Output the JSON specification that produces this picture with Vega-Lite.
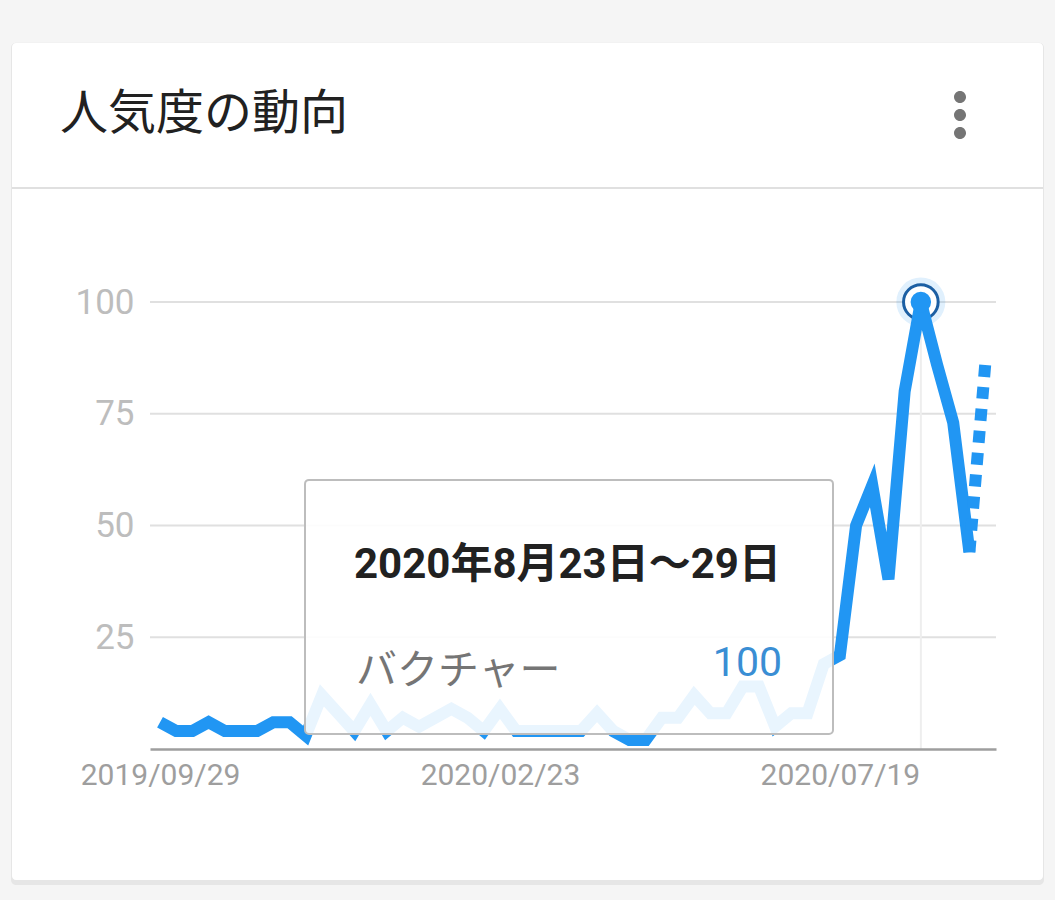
{
  "$schema": "https://vega.github.io/schema/vega-lite/v6.json",
  "width": 846,
  "height": 447,
  "autosize": {"type": "none"},
  "padding": {"left": 150, "top": 302, "right": 59, "bottom": 151},
  "background": "#f5f5f5",
  "view": {"stroke": null},
  "title": {
    "text": "人気度の動向",
    "anchor": "start",
    "frame": "group",
    "font": "Noto Sans CJK JP",
    "fontSize": 48,
    "fontWeight": "normal",
    "color": "#212121",
    "baseline": "alphabetic",
    "dx": -90,
    "offset": -134
  },
  "datasets": {
    "trend": [
      {"date": "2019-09-29T00:00:00", "value": 6},
      {"date": "2019-10-06T00:00:00", "value": 4},
      {"date": "2019-10-13T00:00:00", "value": 4},
      {"date": "2019-10-20T00:00:00", "value": 6},
      {"date": "2019-10-27T00:00:00", "value": 4},
      {"date": "2019-11-03T00:00:00", "value": 4},
      {"date": "2019-11-10T00:00:00", "value": 4},
      {"date": "2019-11-17T00:00:00", "value": 6},
      {"date": "2019-11-24T00:00:00", "value": 6},
      {"date": "2019-12-01T00:00:00", "value": 3},
      {"date": "2019-12-08T00:00:00", "value": 12},
      {"date": "2019-12-15T00:00:00", "value": 8},
      {"date": "2019-12-22T00:00:00", "value": 4},
      {"date": "2019-12-29T00:00:00", "value": 10},
      {"date": "2020-01-05T00:00:00", "value": 4},
      {"date": "2020-01-12T00:00:00", "value": 7},
      {"date": "2020-01-19T00:00:00", "value": 5},
      {"date": "2020-01-26T00:00:00", "value": 7},
      {"date": "2020-02-02T00:00:00", "value": 9},
      {"date": "2020-02-09T00:00:00", "value": 7},
      {"date": "2020-02-16T00:00:00", "value": 4},
      {"date": "2020-02-23T00:00:00", "value": 9},
      {"date": "2020-03-01T00:00:00", "value": 4},
      {"date": "2020-03-08T00:00:00", "value": 4},
      {"date": "2020-03-15T00:00:00", "value": 4},
      {"date": "2020-03-22T00:00:00", "value": 4},
      {"date": "2020-03-29T00:00:00", "value": 4},
      {"date": "2020-04-05T00:00:00", "value": 8},
      {"date": "2020-04-12T00:00:00", "value": 4},
      {"date": "2020-04-19T00:00:00", "value": 2},
      {"date": "2020-04-26T00:00:00", "value": 2},
      {"date": "2020-05-03T00:00:00", "value": 7},
      {"date": "2020-05-10T00:00:00", "value": 7},
      {"date": "2020-05-17T00:00:00", "value": 12},
      {"date": "2020-05-24T00:00:00", "value": 8},
      {"date": "2020-05-31T00:00:00", "value": 8},
      {"date": "2020-06-07T00:00:00", "value": 14},
      {"date": "2020-06-14T00:00:00", "value": 14},
      {"date": "2020-06-21T00:00:00", "value": 5},
      {"date": "2020-06-28T00:00:00", "value": 8},
      {"date": "2020-07-05T00:00:00", "value": 8},
      {"date": "2020-07-12T00:00:00", "value": 19},
      {"date": "2020-07-19T00:00:00", "value": 21},
      {"date": "2020-07-26T00:00:00", "value": 50},
      {"date": "2020-08-02T00:00:00", "value": 59},
      {"date": "2020-08-09T00:00:00", "value": 38},
      {"date": "2020-08-16T00:00:00", "value": 80},
      {"date": "2020-08-23T00:00:00", "value": 100},
      {"date": "2020-08-30T00:00:00", "value": 86},
      {"date": "2020-09-06T00:00:00", "value": 73},
      {"date": "2020-09-13T00:00:00", "value": 44},
      {"date": "2020-09-20T00:00:00", "value": 87}
    ],
    "grid": [{"tick": 25}, {"tick": 50}, {"tick": 75}, {"tick": 100}]
  },
  "data": {"name": "trend"},
  "layer": [
    {
      "data": {"values": [{}]},
      "mark": {"type": "rect", "color": "#000000", "opacity": 0.06, "cornerRadius": 5},
      "encoding": {
        "x": {
          "datum": {"year": 2019, "month": 7, "date": 26, "hours": 13, "minutes": 20},
          "type": "temporal",
          "scale": {"domain": [{"year": 2019, "month": 9, "date": 24, "hours": 16}, {"year": 2020, "month": 9, "date": 24, "hours": 12}]},
          "axis": {
            "title": null,
            "values": [{"year": 2019, "month": 9, "date": 29}, {"year": 2020, "month": 2, "date": 23}, {"year": 2020, "month": 7, "date": 19}],
            "format": "%Y/%m/%d",
            "grid": false,
            "ticks": false,
            "domain": true,
            "domainColor": "#9e9e9e",
            "domainWidth": 2.5,
            "labels": true,
            "labelFont": "Roboto",
            "labelFontSize": 30,
            "labelColor": "#9e9e9e",
            "labelPadding": 11,
            "labelFlush": false,
            "labelAlign": "center",
            "zindex": 1
          }
        },
        "x2": {"datum": {"year": 2020, "month": 10, "date": 15, "hours": 6, "minutes": 10}},
        "y": {
          "datum": 158.0,
          "type": "quantitative",
          "scale": {"domain": [0, 100], "nice": false, "zero": false},
          "axis": {
            "title": null,
            "values": [25, 50, 75, 100],
            "grid": false,
            "ticks": false,
            "domain": false,
            "labels": true,
            "labelFont": "Roboto",
            "labelFontSize": 35,
            "labelColor": "#bdbdbd",
            "labelPadding": 16,
            "zindex": 1
          }
        },
        "y2": {"datum": -30.4}
      }
    },
    {
      "data": {"values": [{}]},
      "mark": {"type": "rect", "color": "#ffffff", "opacity": 1, "cornerRadius": 4},
      "encoding": {
        "x": {"datum": {"year": 2019, "month": 7, "date": 26, "hours": 23, "minutes": 40}, "type": "temporal"},
        "x2": {"datum": {"year": 2020, "month": 10, "date": 14, "hours": 19, "minutes": 50}},
        "y": {"datum": 157.94, "type": "quantitative"},
        "y2": {"datum": -29.31}
      }
    },
    {
      "data": {"values": [{}]},
      "mark": {"type": "rule", "color": "#e0e0e0", "strokeWidth": 2},
      "encoding": {
        "x": {"datum": {"year": 2019, "month": 7, "date": 26, "hours": 23, "minutes": 40}, "type": "temporal"},
        "x2": {"datum": {"year": 2020, "month": 10, "date": 14, "hours": 19, "minutes": 50}},
        "y": {"datum": 125.5, "type": "quantitative"}
      }
    },
    {
      "data": {"values": [{}]},
      "mark": {
        "type": "point",
        "filled": true,
        "color": "#757575",
        "opacity": 1,
        "size": 3600,
        "shape": "M-0.2,-0.6a0.2,0.2 0 1,0 0.4,0a0.2,0.2 0 1,0 -0.4,0Z M-0.2,0a0.2,0.2 0 1,0 0.4,0a0.2,0.2 0 1,0 -0.4,0Z M-0.2,0.6a0.2,0.2 0 1,0 0.4,0a0.2,0.2 0 1,0 -0.4,0Z"
      },
      "encoding": {
        "x": {"datum": {"year": 2020, "month": 9, "date": 8, "hours": 22, "minutes": 30}, "type": "temporal"},
        "y": {"datum": 141.83, "type": "quantitative"}
      }
    },
    {
      "data": {"name": "grid"},
      "mark": {"type": "rule", "color": "#e0e0e0", "strokeWidth": 2},
      "encoding": {
        "y": {"field": "tick", "type": "quantitative"}
      }
    },
    {
      "data": {"values": [{}]},
      "mark": {"type": "rule", "color": "#eeeeee", "strokeWidth": 2},
      "encoding": {
        "x": {"datum": {"year": 2020, "month": 8, "date": 23}, "type": "temporal"},
        "y": {"datum": 100, "type": "quantitative"},
        "y2": {"datum": 0}
      }
    },
    {
      "transform": [{"filter": {"field": "value", "equal": 100}}],
      "mark": {"type": "point", "filled": true, "color": "#2196f3", "opacity": 0.14, "size": 2400},
      "encoding": {
        "x": {"field": "date", "type": "temporal"},
        "y": {"field": "value", "type": "quantitative"}
      }
    },
    {
      "transform": [{"filter": {"field": "value", "equal": 100}}],
      "mark": {"type": "point", "filled": false, "fill": "#ffffff", "fillOpacity": 1, "stroke": "#1c5fa3", "strokeWidth": 3, "opacity": 1, "size": 1200},
      "encoding": {
        "x": {"field": "date", "type": "temporal"},
        "y": {"field": "value", "type": "quantitative"}
      }
    },
    {
      "transform": [{"filter": "time(datum.date) <= time(datetime(2020, 8, 13))"}],
      "mark": {"type": "line", "color": "#2196f3", "strokeWidth": 12},
      "encoding": {
        "x": {"field": "date", "type": "temporal"},
        "y": {"field": "value", "type": "quantitative"}
      }
    },
    {
      "transform": [{"filter": "time(datum.date) >= time(datetime(2020, 8, 13))"}],
      "mark": {"type": "line", "color": "#2196f3", "strokeWidth": 12, "strokeDash": [12, 10]},
      "encoding": {
        "x": {"field": "date", "type": "temporal"},
        "y": {"field": "value", "type": "quantitative"}
      }
    },
    {
      "data": {"values": [{}]},
      "mark": {"type": "rect", "fill": "#ffffff", "fillOpacity": 0.9, "stroke": "#bdbdbd", "strokeWidth": 2, "cornerRadius": 4},
      "encoding": {
        "x": {"datum": {"year": 2019, "month": 11, "date": 30, "hours": 16, "minutes": 45}, "type": "temporal"},
        "x2": {"datum": {"year": 2020, "month": 7, "date": 16, "hours": 0, "minutes": 25}},
        "y": {"datum": 60.2, "type": "quantitative"},
        "y2": {"datum": 3.36}
      }
    },
    {
      "data": {"values": [{}]},
      "mark": {"type": "text", "text": "2020年8月23日～29日", "font": "Roboto, 'Noto Sans CJK JP'", "fontSize": 42, "fontWeight": "bold", "color": "#212121", "align": "left", "baseline": "alphabetic"},
      "encoding": {
        "x": {"datum": {"year": 2019, "month": 12, "date": 21, "hours": 21, "minutes": 15}, "type": "temporal"},
        "y": {"datum": 38.26, "type": "quantitative"}
      }
    },
    {
      "data": {"values": [{}]},
      "mark": {"type": "text", "text": "バクチャー", "font": "Noto Sans CJK JP", "fontSize": 41, "fontWeight": "normal", "color": "#757575", "align": "left", "baseline": "alphabetic"},
      "encoding": {
        "x": {"datum": {"year": 2019, "month": 12, "date": 22, "hours": 17, "minutes": 55}, "type": "temporal"},
        "y": {"datum": 14.6, "type": "quantitative"}
      }
    },
    {
      "data": {"values": [{}]},
      "mark": {"type": "text", "text": "100", "font": "Roboto", "fontSize": 41, "fontWeight": "normal", "color": "#3a8ed4", "align": "right", "baseline": "alphabetic"},
      "encoding": {
        "x": {"datum": {"year": 2020, "month": 6, "date": 23, "hours": 23, "minutes": 10}, "type": "temporal"},
        "y": {"datum": 16.33, "type": "quantitative"}
      }
    },
    {
      "transform": [{"filter": {"field": "value", "equal": 100}}],
      "mark": {"type": "point", "filled": true, "color": "#2196f3", "opacity": 1, "size": 420},
      "encoding": {
        "x": {"field": "date", "type": "temporal"},
        "y": {"field": "value", "type": "quantitative"}
      }
    }
  ]
}
